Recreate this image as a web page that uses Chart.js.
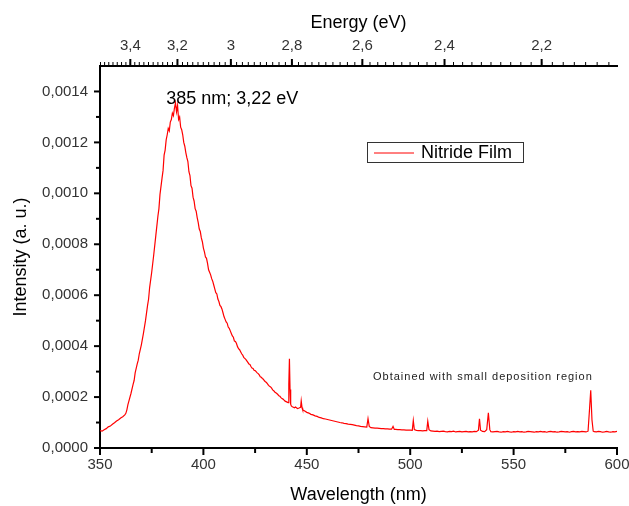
<!DOCTYPE html>
<html>
<head>
<meta charset="utf-8">
<title>Nitride Film PL</title>
<script src="https://cdn.jsdelivr.net/npm/chart.js@4.4.0/dist/chart.umd.min.js"></script>
<style>
  html, body { margin: 0; padding: 0; background: #fff; }
</style>
</head>
<body>
<canvas id="myChart" width="629" height="506"></canvas>
<script>
// wavelength (nm) and intensity, intensity in units of 1e-6 a.u.
const wavelength = [
  350, 351, 352, 353, 354, 355, 356, 357, 358, 359, 360, 361, 362, 362.5, 363, 363.5, 364, 365, 366, 366.5,
  367, 368, 368.5, 369, 370, 371, 372, 373, 373.5, 374, 375, 376, 377, 378, 378.5, 379, 380, 380.5, 381, 381.5,
  382, 382.5, 383, 383.5, 384, 384.5, 385, 385.5, 386, 386.5, 387, 387.5, 388, 388.5, 389, 389.5, 390, 390.5, 391, 391.5,
  392, 392.5, 393, 393.5, 394, 394.5, 395, 395.5, 396, 396.5, 397, 397.5, 398, 398.5, 399, 399.5, 400, 400.5, 401, 401.5,
  402, 402.5, 403, 403.5, 404, 404.5, 405, 405.5, 406, 406.5, 407, 407.5, 408, 408.5, 409, 409.5, 410, 410.5, 411, 411.5,
  412, 412.5, 413, 413.5, 414, 414.5, 415, 415.5, 416, 416.5, 417, 417.5, 418, 418.5, 419, 419.5, 420, 420.5, 421, 421.5,
  422, 422.5, 423, 423.5, 424, 424.5, 425, 425.5, 426, 426.5, 427, 427.5, 428, 428.5, 429, 429.5, 430, 430.5, 431, 431.5,
  432, 432.5, 433, 433.5, 434, 434.5, 435, 435.5, 436, 436.5, 437, 437.5, 438, 438.5, 439, 439.5, 440, 440.5, 441, 441.3,
  441.6, 441.9, 442.2, 442.5, 443, 443.5, 444, 444.5, 445, 445.5, 446, 446.5, 447, 447.3, 447.7, 448, 449, 450, 451, 452,
  453, 454, 455, 456, 457, 458, 459, 460, 461, 462, 463, 464, 465, 466, 467, 468, 469, 470, 471, 472,
  473, 474, 475, 476, 477, 478, 479, 479.6, 480.2, 481, 482, 483, 484, 485, 486, 487, 488, 489, 490, 491,
  491.7, 492.3, 493, 494, 495, 496, 497, 498, 499, 500, 501, 501.5, 502, 503, 504, 505, 506, 507, 508, 508.5,
  509.1, 510, 511, 512, 513, 514, 515, 516, 517, 518, 519, 520, 521, 522, 523, 524, 525, 526, 527, 528,
  529, 530, 531, 532, 533, 533.5, 534, 535, 536, 537, 537.8, 538.5, 539, 540, 541, 542, 543, 544, 545, 546,
  547, 548, 549, 550, 551, 552, 553, 554, 555, 556, 557, 558, 559, 560, 561, 562, 563, 564, 565, 566,
  567, 568, 569, 570, 571, 572, 573, 574, 575, 576, 577, 578, 579, 580, 581, 582, 583, 584, 585, 586,
  586.7, 587.3, 587.9, 588.5, 589, 590, 591, 592, 593, 594, 595, 596, 597, 598, 599, 600
];
const intensity_1e6 = [
  68, 66, 72, 76, 83, 86, 93, 99, 106, 111, 118, 123, 130, 136, 150, 170, 185, 215, 250, 265,
  295, 330, 345, 370, 405, 450, 500, 560, 585, 630, 690, 760, 835, 910, 940, 995, 1060, 1090, 1150, 1170,
  1210, 1230, 1255, 1245, 1280, 1290, 1315, 1305, 1335, 1355, 1320, 1345, 1290, 1300, 1260, 1250, 1230, 1200, 1185, 1160,
  1140, 1125, 1085, 1070, 1030, 1020, 985, 970, 940, 930, 905, 885, 860, 850, 825, 810, 785, 770, 750, 745,
  725, 700, 690, 680, 665, 655, 640, 625, 610, 605, 585, 575, 560, 555, 545, 530, 515, 505, 495, 490,
  475, 470, 460, 450, 440, 435, 420, 418, 410, 398, 390, 386, 378, 370, 365, 356, 352, 348, 342, 336,
  330, 328, 320, 314, 312, 305, 304, 300, 295, 292, 287, 280, 278, 273, 270, 264, 260, 257, 252, 246,
  242, 240, 235, 228, 225, 220, 217, 214, 210, 205, 203, 198, 194, 192, 188, 184, 182, 180, 178, 250,
  350, 230, 172, 165, 162, 160, 158, 161, 158, 155, 156, 158, 160, 185, 158, 150, 145, 140, 137, 132,
  130, 126, 124, 120, 118, 115, 114, 112, 110, 108, 106, 104, 102, 100, 99, 97, 96, 94, 93, 92,
  90, 88, 87, 85, 84, 83, 82, 115, 85, 80, 79, 78, 78, 77, 76, 76, 75, 75, 74, 74,
  85, 73, 73, 72, 72, 71, 71, 70, 70, 70, 69, 108, 72, 69, 68, 68, 67, 68, 68, 105,
  72, 67, 66, 65, 66, 64, 65, 66, 64, 63, 65, 64, 66, 63, 64, 65, 63, 64, 65, 63,
  64, 63, 65, 64, 70, 115, 70, 65, 64, 72, 138, 72, 64, 63, 64, 65, 63, 62, 64, 63,
  65, 63, 62, 64, 63, 65, 63, 64, 62, 63, 65, 64, 63, 62, 64, 63, 65, 63, 64, 62,
  64, 65, 63, 64, 62, 63, 65, 64, 63, 64, 62, 64, 65, 63, 64, 63, 65, 64, 63, 66,
  150, 227, 110, 66, 64, 63, 65, 64, 62, 63, 65, 63, 62, 64, 63, 65
];

// tick labels
const wavelengthTicks = [350, 400, 450, 500, 550, 600];
const intensityTicks = [0, 0.0002, 0.0004, 0.0006, 0.0008, 0.0010, 0.0012, 0.0014];
const energyTicks = [3.4, 3.2, 3.0, 2.8, 2.6, 2.4, 2.2];

const HC = 1239.84; // eV*nm, E = HC / lambda
const FONT = "'Liberation Sans', Arial, sans-serif";

let points = [];
for (let i = 0; i < wavelength.length; i++) {
  points.push({ x: wavelength[i], y: intensity_1e6[i] * 1e-6 });
}

// draws the tick marks on all three axes (major + minor, pointing outwards)
const axisTicks = {
  id: 'axisTicks',
  afterDraw(chart) {
    const { ctx, chartArea: a } = chart;
    const x = chart.scales.x, xTop = chart.scales.xTop, y = chart.scales.y;
    ctx.save();
    ctx.strokeStyle = '#000';

    function tick(x1, y1, x2, y2, w) {
      ctx.lineWidth = w;
      ctx.beginPath();
      ctx.moveTo(x1, y1);
      ctx.lineTo(x2, y2);
      ctx.stroke();
    }

    // bottom: wavelength every 25 nm
    for (let w = 350; w <= 600; w += 25) {
      const px = x.getPixelForValue(w);
      tick(px, a.bottom, px, a.bottom + (w % 50 === 0 ? 7 : 5), 2);
    }
    // left: intensity every 0.0001
    for (let k = 0; k <= 14; k++) {
      const py = y.getPixelForValue(k * 0.0001);
      tick(a.left, py, a.left - (k % 2 === 0 ? 6 : 4), py, 2);
    }
    // top: energy minor ticks every 0.02 eV
    for (let k = 354; k >= 207; k -= 2) {
      const px = xTop.getPixelForValue(HC / (k / 100));
      tick(px, a.top, px, a.top - 4, 1);
    }
    for (let e of energyTicks) {
      const px = xTop.getPixelForValue(HC / e);
      tick(px, a.top, px, a.top - 7, 2);
    }
    ctx.restore();
  }
};

// annotations + the boxed legend
const notes = {
  id: 'notes',
  afterDraw(chart) {
    const { ctx, chartArea: a } = chart;
    const x = chart.scales.x, y = chart.scales.y;
    ctx.save();

    ctx.fillStyle = '#000';
    ctx.font = '18px ' + FONT;
    ctx.textAlign = 'left';
    ctx.textBaseline = 'alphabetic';
    ctx.fillText('385 nm; 3,22 eV', x.getPixelForValue(382), y.getPixelForValue(0.00135));

    ctx.fillStyle = '#222';
    ctx.font = '11px ' + FONT;
    ctx.letterSpacing = '1px';
    ctx.fillText('Obtained with small deposition region', x.getPixelForValue(482), y.getPixelForValue(0.000267));
    ctx.letterSpacing = '0px';

    // legend box
    const lx = a.left + 267, ly = a.top + 76;
    ctx.strokeStyle = '#333';
    ctx.lineWidth = 1;
    ctx.strokeRect(lx + 0.5, ly + 0.5, 156, 20);
    ctx.strokeStyle = '#ff0000';
    ctx.beginPath();
    ctx.moveTo(lx + 7, ly + 11);
    ctx.lineTo(lx + 47, ly + 11);
    ctx.stroke();
    ctx.fillStyle = '#000';
    ctx.font = '18px ' + FONT;
    ctx.textBaseline = 'middle';
    ctx.fillText('Nitride Film', lx + 54, ly + 11.5);

    ctx.restore();
  }
};

const tickFont = { family: FONT, size: 15 };
const titleFont = { family: FONT, size: 18 };

// keep the horizontal axes from reserving room for the end labels
function fitX(h) {
  return function (scale) {
    scale.height = h;
    scale.paddingLeft = 0;
    scale.paddingRight = 0;
  };
}

const data = {
  datasets: [{
    label: 'Nitride Film',
    data: points,
    borderColor: '#ff0000',
    borderWidth: 1.2,
    pointRadius: 0,
    tension: 0
  }]
};

const config = {
  type: 'line',
  data: data,
  options: {
    responsive: false,
    devicePixelRatio: 1,
    animation: false,
    layout: { padding: { left: 0, right: 12, top: 0, bottom: 0 } },
    plugins: {
      legend: { display: false },
      tooltip: { enabled: false }
    },
    scales: {
      x: {
        type: 'linear',
        position: 'bottom',
        min: 350,
        max: 600,
        afterBuildTicks: function (scale) { scale.ticks = wavelengthTicks.map(v => ({ value: v })); },
        afterFit: fitX(58),
        ticks: { font: tickFont, color: '#333', padding: 8, maxRotation: 0, autoSkip: false,
                 callback: v => String(v) },
        grid: { display: false, drawTicks: false },
        border: { display: true, color: '#000', width: 2 },
        title: { display: true, text: 'Wavelength (nm)', color: '#000', font: titleFont,
                 padding: { top: 0, bottom: 0 } }
      },
      xTop: {
        type: 'linear',
        position: 'top',
        min: 350,
        max: 600,
        afterBuildTicks: function (scale) { scale.ticks = energyTicks.map(e => ({ value: HC / e })); },
        afterFit: fitX(66),
        ticks: { font: tickFont, color: '#333', padding: 11, maxRotation: 0, autoSkip: false,
                 callback: (v, i) => String(energyTicks[i]).replace('.', ',') },
        grid: { display: false, drawTicks: false },
        border: { display: true, color: '#000', width: 2 },
        title: { display: true, text: 'Energy (eV)', color: '#000', font: titleFont,
                 padding: { top: 12, bottom: 0 } }
      },
      y: {
        min: 0,
        max: 0.0015,
        afterBuildTicks: function (scale) { scale.ticks = intensityTicks.map(v => ({ value: v })); },
        afterFit: function (scale) { scale.width = 100; scale.paddingTop = 0; scale.paddingBottom = 0; },
        ticks: { font: tickFont, color: '#333', padding: 12, autoSkip: false,
                 callback: v => v.toFixed(4).replace('.', ',') },
        grid: { display: false, drawTicks: false },
        border: { display: true, color: '#000', width: 2 },
        title: { display: true, text: 'Intensity (a. u.)', color: '#000', font: titleFont,
                 padding: { top: 10, bottom: 0 } }
      }
    }
  },
  plugins: [axisTicks, notes]
};

const myChart = new Chart(document.getElementById('myChart'), config);
</script>
</body>
</html>
